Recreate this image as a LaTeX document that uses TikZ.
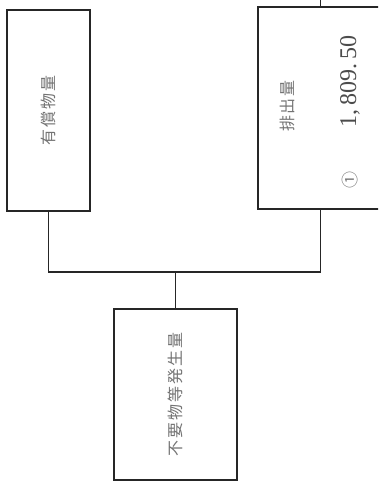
\documentclass[tikz,border=0pt]{standalone}
\usepackage{fontspec}
\setmainfont{Liberation Serif}
\newfontfamily\jpfont[LetterSpace=12]{Noto Sans CJK JP}
\usetikzlibrary{positioning}

\begin{document}
\begin{tikzpicture}[
    x=1pt, y=-1pt,
    % Styles
    box/.style={ % Item box
        rectangle,
        draw=black!85,
        line width=1.8pt,
        inner sep=0pt
    },
    link/.style={ % Connector lines
        draw=black!85,
        line width=1.6pt
    },
    tag/.style={ % Vertical label
        rotate=90,
        text=black!55,
        font=\jpfont\fontsize{16}{16}\selectfont
    }
]
    \useasboundingbox (0,0) rectangle (378,482);
    \clip (0,0) rectangle (378,482);

    % Boxes
    \node[box, minimum width=83pt, minimum height=201pt] (paid) at (48.5,110.5) {};
    \node[box, minimum width=125pt, minimum height=202pt] (emit) at (320.5,108) {};
    \node[box, minimum width=123pt, minimum height=171pt] (waste) at (175.5,394.5) {};

    % Labels
    \node[tag] (paidtext) at (paid) {有償物量};
    \node[tag] (emittext) at (287,106) {排出量};
    \node[tag, font=\jpfont\fontsize{17}{17}\selectfont] (mark) at (350,180) {①};
    \node[tag, font=\fontsize{24}{24}\selectfont, text=black!70] (amount) at (350,81) {1,\,809.\,50};
    \node[tag] (wastetext) at (waste) {不要物等発生量};

    % Connectors
    \coordinate (join) at (175.5,272);
    \coordinate (feed) at (320.5,-5);
    \draw[link] (paid.south) |- (join) -| (emit.south);
    \draw[link] (join) -- (waste.north);
    \draw[link] (emit.north) -- (feed);
\end{tikzpicture}
\end{document}
